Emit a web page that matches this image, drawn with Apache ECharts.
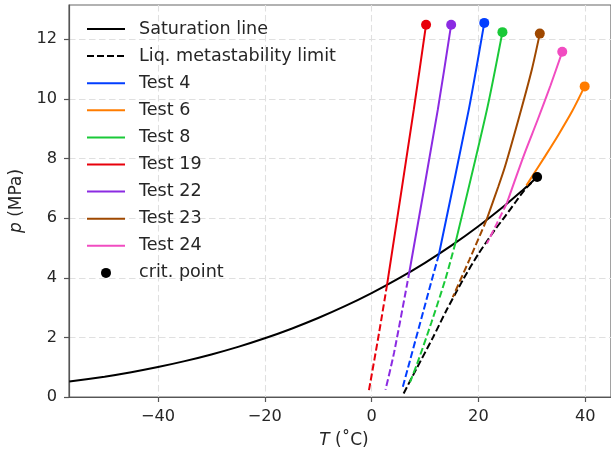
<!DOCTYPE html>
<html>
<head>
<meta charset="utf-8">
<script src="https://cdn.jsdelivr.net/npm/echarts@6/dist/echarts.min.js"></script>
<style>
html,body{margin:0;padding:0;background:#fff;}
#chart{width:611px;height:454px;}
</style>
</head>
<body>
<div id="chart"></div>
<script>
// ---- data (T in °C, p in MPa) ----
const xTicks = [-40, -20, 0, 20, 40];
const yTicks = [0, 2, 4, 6, 8, 10, 12];

const saturationLine = [[-56.6,0.518],[-50,0.682],[-45,0.832],[-40,1.005],[-35,1.203],[-30,1.428],[-25,1.682],[-20,1.970],[-15,2.291],[-10,2.649],[-5,3.046],[0,3.485],[5,3.969],[10,4.502],[15,5.086],[20,5.729],[25,6.434],[28,6.892],[30,7.214],[31,7.377]];
const metastabilityLimit = [[6.0,0.12],[8.5,0.98],[11.5,2.0],[14.0,2.9],[17.2,3.96],[20.0,4.8],[23.1,5.61],[25.0,6.06],[27.0,6.55],[28.7,6.96],[30.0,7.2]];
const critPoint = [[31.0,7.38]];

const test4_liquid  = [[21.1,12.55],[18.2,9.64],[12.6,4.78]];
const test4_meta    = [[12.6,4.78],[11.3,3.94],[5.7,0.24]];
const test6_liquid  = [[39.9,10.42],[37.6,9.6],[35.0,8.8],[32.5,8.08],[30.5,7.52],[29.0,7.1]];
const test6_meta    = [];
const test8_liquid  = [[24.5,12.24],[21.6,9.64],[15.7,5.17]];
const test8_meta    = [[15.7,5.17],[13.8,3.94],[11.2,2.5],[8.5,1.1],[7.2,0.5]];
const test19_liquid = [[10.2,12.49],[7.9,9.64],[2.9,3.77]];
const test19_meta   = [[2.9,3.77],[1.4,2.15],[-0.5,0.22]];
const test22_liquid = [[14.9,12.49],[12.4,9.64],[7.1,4.22]];
const test22_meta   = [[7.1,4.22],[4.2,1.48],[2.6,0.24]];
const test23_liquid = [[31.5,12.19],[30.0,10.98],[27.5,9.31],[25.0,7.74],[23.75,7.07],[21.5,5.93]];
const test23_meta   = [[21.5,5.93],[18.3,4.6],[15.2,3.35]];
const test24_liquid = [[35.7,11.58],[33.5,10.45],[31.1,9.3],[28.6,8.15],[26.7,7.2],[25.3,6.49]];
const test24_meta   = [[25.3,6.49],[23.4,5.8],[21.6,5.15]];

const testNames  = ['Test 4','Test 6','Test 8','Test 19','Test 22','Test 23','Test 24'];
const testColors = ['#023eff','#ff7c00','#1ac938','#e8000b','#8b2be2','#9f4800','#f14cc1'];
const testLiquid = [test4_liquid,test6_liquid,test8_liquid,test19_liquid,test22_liquid,test23_liquid,test24_liquid];
const testMeta   = [test4_meta,test6_meta,test8_meta,test19_meta,test22_meta,test23_meta,test24_meta];

// ---- chart ----
const FONT = 'DejaVu Sans';
const TXT = '#262626';
const DASH = [7, 3];
const lineBase = {type:'line', symbol:'none', showSymbol:false, smooth:0.25};
const series = [];
series.push(Object.assign({}, lineBase, {name:'Saturation line', data:saturationLine,
  lineStyle:{color:'#000', width:2}, itemStyle:{color:'#000'}, z:3}));
series.push(Object.assign({}, lineBase, {name:'Liq. metastability limit', data:metastabilityLimit,
  lineStyle:{color:'#000', width:2, type:DASH}, itemStyle:{color:'#000'}, z:3}));
testNames.forEach((n,i)=>{
  series.push(Object.assign({}, lineBase, {name:n, data:testLiquid[i],
    lineStyle:{color:testColors[i], width:2}, itemStyle:{color:testColors[i]}, z:4}));
});
testNames.forEach((n,i)=>{
  if (testMeta[i].length) series.push(Object.assign({}, lineBase, {name:n+' (metastable)', data:testMeta[i],
    lineStyle:{color:testColors[i], width:2, type:DASH}, itemStyle:{color:testColors[i]}, z:4}));
});
series.push({name:'test start', type:'scatter', symbol:'circle', symbolSize:10, z:5,
  data:testLiquid.map((d,i)=>({value:d[0], itemStyle:{color:testColors[i], opacity:1}}))});
series.push({name:'crit. point', type:'scatter', symbol:'circle', symbolSize:10, z:6,
  data:critPoint, itemStyle:{color:'#000', opacity:1}});

const minus = v => String(v).replace('-', '\u2212');
const lineNames = ['Saturation line','Liq. metastability limit'].concat(testNames);
const legendData = lineNames.map(n => ({name:n, itemStyle:{opacity:0}}))
  .concat([{name:'crit. point', itemStyle:{opacity:1, color:'#000'}}]);

const option = {
  animation:false,
  backgroundColor:'#fff',
  textStyle:{fontFamily:FONT},
  grid:{left:69, right:-2, top:5, bottom:57, show:true, borderColor:'#666', borderWidth:1.2, containLabel:false},
  legend:{
    data:legendData,
    orient:'vertical', left:86, top:19, padding:0,
    itemWidth:38, itemHeight:10, itemGap:7.1,
    selectedMode:false,
    textStyle:{fontFamily:FONT, fontSize:17.6, color:TXT, lineHeight:20, padding:[0,0,0,9]}
  },
  xAxis:{
    type:'value', min:-56.66, max:44.83,
    name:'{i|T} (˚C)', nameLocation:'middle', nameGap:35,
    nameTextStyle:{fontFamily:FONT, fontSize:17, color:TXT, padding:[0,0,0,8],
      rich:{i:{fontFamily:FONT, fontStyle:'italic', fontSize:17, color:TXT}}},
    axisLine:{show:true, onZero:false, lineStyle:{color:'#555', width:1.2}},
    axisTick:{show:true, length:5, customValues:xTicks, lineStyle:{color:'#555', width:1.2}},
    axisLabel:{customValues:xTicks, formatter:minus, fontFamily:FONT, fontSize:16.2, color:TXT, margin:12},
    splitLine:{show:true, lineStyle:{color:'#e0e0e0', width:1.1, type:[6.5,3.5]}}
  },
  yAxis:{
    type:'value', min:0, max:13.15,
    name:'{i|p} (MPa)', nameLocation:'middle', nameGap:37, nameRotate:90,
    nameTextStyle:{fontFamily:FONT, fontSize:17, color:TXT,
      rich:{i:{fontFamily:FONT, fontStyle:'italic', fontSize:17, color:TXT}}},
    axisLine:{show:true, onZero:false, lineStyle:{color:'#555', width:1.2}},
    axisTick:{show:true, length:5, customValues:yTicks, lineStyle:{color:'#555', width:1.2}},
    axisLabel:{customValues:yTicks, fontFamily:FONT, fontSize:16.2, color:TXT, margin:12},
    splitLine:{show:true, lineStyle:{color:'#e0e0e0', width:1.1, type:[6.5,3.5]}}
  },
  series:series
};
const chart = echarts.init(document.getElementById('chart'), null, {renderer:'canvas'});
chart.setOption(option);
</script>
</body>
</html>
